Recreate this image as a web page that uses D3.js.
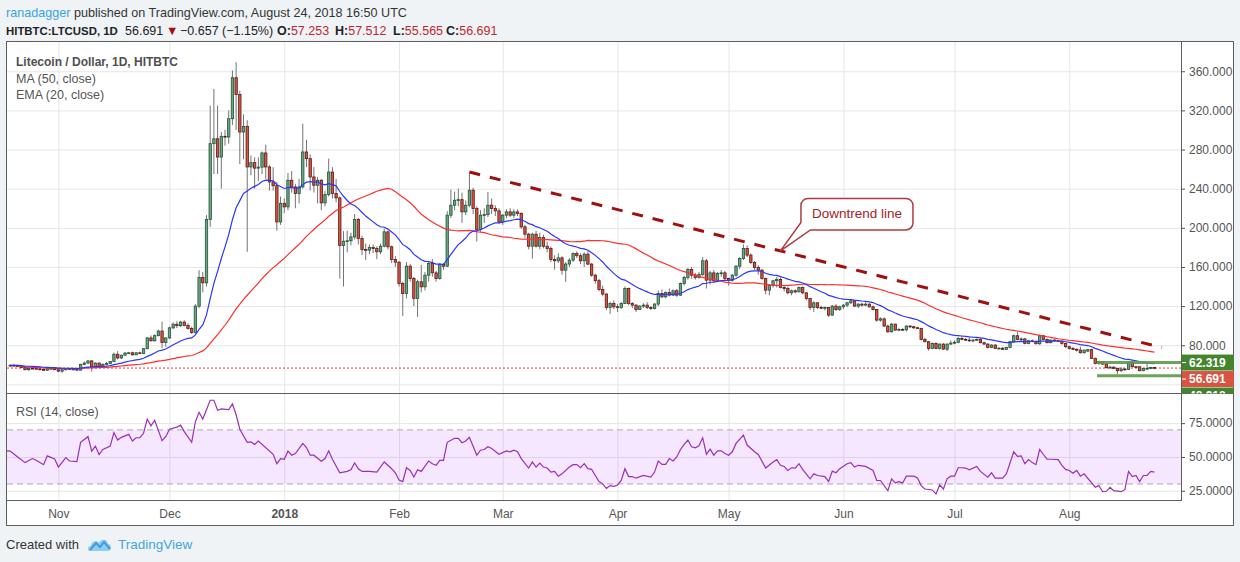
<!DOCTYPE html>
<html>
<head>
<meta charset="utf-8">
<title>LTCUSD 1D</title>
<script src="https://cdn.jsdelivr.net/npm/d3@7/dist/d3.min.js"></script>
<style>
  body { margin: 0; background: #f0f3f6; }
  svg { display: block; }
  text { font-family: "Liberation Sans", Arial, sans-serif; }
  .grid line { stroke: #e6e6e6; }
  .grid .domain { display: none; }
  .axis text { fill: #555; font-size: 12px; }
  .axis .domain { display: none; }
  .axis line { stroke: #555; }
</style>
</head>
<body>
<script>
// daily candles, first candle is on this day, one per day after it
const firstDay = '2017-10-19';

const opens = [
  59.0,59.5,59.0,58.5,57.2,55.0,56.5,56.3,55.8,55.2,54.5,56.0,56.3,
  55.0,53.5,55.0,56.2,55.4,55.6,54.6,60.5,61.8,64.0,58.0,61.8,58.5,60.5,61.5,63.3,70.8,67.0,69.8,72.0,72.3,70.2,72.3,71.5,76.5,87.5,84.5,89.8,94.5,82.8,
  87.5,97.8,101.5,100.0,103.7,100.3,97.2,93.0,120.0,149.3,143.8,208.5,286.0,291.0,272.3,293.5,292.8,311.5,353.4,336.3,297.9,303.7,262.2,266.6,261.0,262.0,276.5,262.2,246.9,243.0,206.0,
  225.0,221.4,248.6,241.8,235.0,241.8,277.5,270.7,252.0,243.5,248.6,225.5,234.0,257.0,235.0,230.6,182.0,186.3,186.8,190.7,208.5,189.1,177.8,177.2,179.8,178.8,175.5,181.2,195.9,180.6,167.6,
  164.9,143.2,132.9,160.8,148.2,127.8,144.9,139.7,151.6,163.6,154.0,148.2,162.5,160.8,212.9,223.1,228.2,228.8,216.3,223.1,238.4,219.7,198.2,212.9,213.5,223.1,219.7,217.3,
  206.1,212.9,216.3,212.9,216.3,214.6,201.0,193.5,181.2,193.5,181.2,190.1,181.2,178.9,167.6,166.3,169.3,156.7,163.0,167.0,173.7,171.5,166.3,173.1,162.9,151.6,146.0,137.0,132.3,118.7,122.7,
  119.3,118.7,122.7,138.0,122.7,121.0,116.6,120.0,121.0,118.7,117.6,122.1,132.9,129.5,134.0,131.2,135.7,131.2,143.1,149.3,157.4,151.6,149.3,152.3,166.3,146.5,154.0,145.9,153.3,154.0,
  148.3,146.5,151.6,160.8,168.6,178.9,172.1,164.6,159.5,156.7,148.2,136.3,141.4,145.9,147.2,139.1,138.0,133.6,135.7,134.6,139.0,133.6,127.8,118.6,123.4,118.6,118.0,118.6,110.8,120.0,116.6,
  119.3,121.0,123.4,125.4,120.0,122.0,121.0,122.0,119.3,116.6,105.7,107.0,99.6,93.8,101.6,95.5,96.2,95.8,99.6,98.9,97.9,97.2,86.0,83.6,76.8,81.9,76.8,81.2,76.0,81.2,
  82.2,83.0,87.0,86.0,85.3,84.6,85.3,86.0,82.6,81.2,77.8,80.2,76.8,77.0,75.8,77.8,83.6,89.7,86.0,86.5,81.9,84.6,84.0,81.5,89.7,86.0,82.6,85.3,84.6,84.3,81.9,
  78.5,76.8,75.8,75.1,72.4,74.0,75.5,66.6,61.5,63.2,60.8,57.1,57.6,56.4,54.0,55.7,55.4,62.2,58.1,58.0,54.0,56.4,56.4,57.253
];
const highs = [
  60.5,61.0,60.0,59.5,58.0,57.5,57.2,57.0,56.3,55.6,57.0,57.5,56.8,
  55.4,55.5,57.0,56.8,56.3,56.2,61.0,63.5,64.5,64.8,62.5,62.3,61.5,62.8,63.8,72.5,74.0,70.5,73.0,73.2,73.5,72.8,73.5,77.0,88.5,90.0,91.0,96.0,104.0,88.0,
  99.0,103.5,104.5,105.0,105.5,102.5,99.0,122.0,156.7,155.0,213.0,325.0,342.0,325.0,298.0,300.0,320.0,360.8,369.3,340.0,316.0,310.0,274.0,272.0,272.0,278.0,285.0,264.0,262.0,247.0,232.0,
  230.0,256.0,258.0,245.0,250.0,306.4,290.0,275.0,262.0,252.0,250.0,238.0,270.7,262.0,250.0,232.0,196.6,197.0,195.0,214.0,210.0,192.0,184.0,183.0,183.0,181.0,184.0,199.0,197.0,182.0,171.0,
  166.0,145.0,165.0,163.0,150.0,147.0,162.0,155.0,166.0,168.0,156.0,164.0,164.0,217.0,239.0,237.0,240.0,236.0,228.0,256.4,241.0,222.0,218.0,220.0,236.7,230.0,223.0,220.0,
  214.0,219.0,220.0,219.0,219.0,216.0,203.0,195.0,195.0,197.0,195.0,193.0,186.0,181.0,172.0,174.0,171.0,165.0,169.0,175.0,176.0,174.0,175.0,176.0,164.0,153.0,148.0,141.0,133.0,124.5,126.0,
  122.0,124.0,140.0,139.0,124.0,122.0,121.0,123.0,124.0,120.0,123.0,136.0,137.0,135.0,138.0,137.0,137.5,144.0,151.0,159.0,160.0,154.0,155.0,170.3,168.0,156.0,157.0,155.0,157.0,156.0,
  149.0,153.0,162.0,170.0,183.0,182.0,174.0,166.0,162.0,158.0,149.0,142.5,147.0,150.0,149.0,141.0,140.0,137.0,137.0,140.0,140.0,134.5,128.5,125.0,124.0,120.5,119.5,119.0,121.0,122.0,120.5,
  122.0,124.5,127.0,126.0,123.0,123.5,124.0,123.0,120.5,117.0,108.5,108.4,101.0,102.5,102.0,97.5,97.5,100.5,100.5,100.0,99.0,97.8,87.5,84.5,83.0,83.0,81.8,82.0,81.8,85.0,
  85.0,88.5,89.5,87.5,88.0,86.0,87.0,86.8,83.5,82.0,81.0,81.0,78.0,78.0,78.5,84.5,91.0,93.8,88.0,87.5,85.5,86.0,85.0,91.0,90.5,87.0,86.0,86.0,85.5,85.0,82.5,
  79.5,78.3,77.0,78.5,75.5,76.3,76.5,67.5,64.2,63.8,61.5,59.0,58.5,57.0,57.5,56.8,63.0,63.0,59.0,58.8,57.0,61.5,58.0,57.512
];
const lows = [
  57.5,58.5,57.8,56.5,54.5,53.8,55.5,55.2,54.5,54.0,54.0,55.3,54.8,
  52.5,51.8,54.2,54.8,54.8,54.0,54.2,59.5,61.0,53.0,56.5,57.0,58.0,59.5,61.0,62.8,65.5,66.0,69.3,71.0,69.5,70.0,71.0,71.0,76.0,84.0,84.0,89.0,77.0,78.5,
  86.5,96.5,97.5,98.5,99.5,96.0,91.5,92.0,118.0,134.0,140.0,201.0,255.0,255.0,240.0,284.0,286.0,305.0,300.0,265.0,270.0,175.5,253.7,240.0,248.0,255.0,250.0,238.0,238.0,197.0,203.0,
  215.0,218.0,236.0,220.0,225.0,240.0,262.0,238.0,236.0,225.0,218.0,222.0,232.0,230.0,226.0,148.0,140.0,175.0,182.0,188.0,183.0,172.0,167.0,173.0,174.0,168.0,173.0,180.0,178.0,164.0,160.0,
  140.0,110.0,128.0,145.0,120.0,109.0,134.0,136.0,145.0,150.0,145.0,147.0,157.0,160.0,210.0,218.0,222.0,205.0,213.0,221.0,214.0,186.0,196.0,205.0,211.0,214.0,212.0,204.0,
  203.0,210.0,211.0,210.0,212.0,199.0,190.0,178.0,168.6,180.0,178.0,179.0,175.0,165.0,157.4,164.0,152.0,144.8,160.0,165.0,169.0,163.0,160.0,162.0,150.0,143.0,135.0,130.0,116.0,112.0,117.0,
  114.0,117.0,122.0,121.0,118.0,114.0,116.0,118.0,117.0,116.0,116.5,120.0,128.0,128.0,130.0,130.5,129.5,130.5,141.0,147.0,148.0,147.0,148.0,151.0,138.0,142.0,144.0,144.5,150.0,146.0,
  141.0,145.0,150.0,158.0,167.0,170.0,163.0,157.0,152.0,147.0,132.0,131.0,139.0,139.0,138.0,135.0,132.0,131.0,133.0,134.0,132.0,126.0,116.0,114.0,117.0,117.0,115.5,109.0,110.0,115.0,115.0,
  117.0,119.0,122.0,119.0,118.0,119.5,120.0,118.5,115.5,104.0,104.0,98.5,92.5,93.0,95.0,94.5,95.0,94.0,97.5,96.5,96.5,85.0,83.0,74.5,76.0,76.0,75.5,75.5,74.0,80.5,
  81.0,82.0,85.0,84.5,83.5,83.0,84.5,82.0,80.5,77.0,77.0,76.0,76.0,75.3,75.5,77.0,82.5,85.0,84.0,81.0,81.0,83.0,81.0,80.5,85.0,82.0,82.0,83.5,83.5,80.5,77.5,
  75.5,75.0,73.5,71.5,71.5,73.0,66.0,60.5,60.0,59.5,56.5,56.0,55.5,50.6,52.5,54.0,55.0,57.5,56.8,53.5,53.5,54.5,55.5,55.565
];
const closes = [
  59.5,59.0,58.5,57.2,55.0,56.5,56.3,55.8,55.2,54.5,56.0,56.3,55.0,
  53.5,55.0,56.2,55.4,55.6,54.6,60.5,61.8,64.0,58.0,61.8,58.5,60.5,61.5,63.3,70.8,67.0,69.8,72.0,72.3,70.2,72.3,71.5,76.5,87.5,84.5,89.8,94.5,82.8,87.5,
  97.8,101.5,100.0,103.7,100.3,97.2,93.0,120.0,149.3,143.8,208.5,286.0,291.0,272.3,293.5,292.8,311.5,353.4,336.3,297.9,303.7,262.2,266.6,261.0,262.0,276.5,262.2,246.9,243.0,206.0,225.0,
  221.4,248.6,241.8,235.0,241.8,277.5,270.7,252.0,243.5,248.6,225.5,234.0,257.0,235.0,230.6,182.0,186.3,186.8,190.7,208.5,189.1,177.8,177.2,179.8,178.8,175.5,181.2,195.9,180.6,167.6,164.9,
  143.2,132.9,160.8,148.2,127.8,144.9,139.7,151.6,163.6,154.0,148.2,162.5,160.8,212.9,223.1,228.2,228.8,216.3,223.1,238.4,219.7,198.2,212.9,213.5,223.1,219.7,217.3,206.1,
  212.9,216.3,212.9,216.3,214.6,201.0,193.5,181.2,193.5,181.2,190.1,181.2,178.9,167.6,166.3,169.3,156.7,163.0,167.0,173.7,171.5,166.3,173.1,162.9,151.6,146.0,137.0,132.3,118.7,122.7,119.3,
  118.7,122.7,138.0,122.7,121.0,116.6,120.0,121.0,118.7,117.6,122.1,132.9,129.5,134.0,131.2,135.7,131.2,143.1,149.3,157.4,151.6,149.3,152.3,166.3,146.5,154.0,145.9,153.3,154.0,148.3,
  146.5,151.6,160.8,168.6,178.9,172.1,164.6,159.5,156.7,148.2,136.3,141.4,145.9,147.2,139.1,138.0,133.6,135.7,134.6,139.0,133.6,127.8,118.6,123.4,118.6,118.0,118.6,110.8,120.0,116.6,119.3,
  121.0,123.4,125.4,120.0,122.0,121.0,122.0,119.3,116.6,105.7,107.0,99.6,93.8,101.6,95.5,96.2,95.8,99.6,98.9,97.9,97.2,86.0,83.6,76.8,81.9,76.8,81.2,76.0,81.2,82.2,
  83.0,87.0,86.0,85.3,84.6,85.3,86.0,82.6,81.2,77.8,80.2,76.8,77.0,75.8,77.8,83.6,89.7,86.0,86.5,81.9,84.6,84.0,81.5,89.7,86.0,82.6,85.3,84.6,84.3,81.9,78.5,
  76.8,75.8,75.1,72.4,75.1,75.5,66.6,61.5,63.2,60.8,57.1,57.6,56.4,54.0,55.7,55.4,62.2,58.1,58.0,54.0,56.4,56.4,57.25,56.691
];

// RSI(14): [candle index, value]
const rsiPoints = [
  [-1,54.5],[0,54.3],[2,50.0],[4,45.8],[6,48.8],[7,47.5],[9,44.3],[10,50.8],[12,48.5],[13,42.5],[15,49.5],[16,47.0],
  [18,46.5],[19,60.8],[21,65.0],[22,54.3],[23,58.0],[24,51.8],[25,55.5],[27,58.0],[28,68.0],[29,62.5],[30,64.5],
  [32,66.7],[33,61.8],[34,64.2],[35,64.2],[36,67.5],[37,78.0],[38,73.0],[39,77.0],[41,62.0],[42,65.0],[43,70.5],
  [45,72.0],[46,73.5],[47,68.7],[49,60.8],[50,76.0],[51,83.0],[52,78.0],[54,91.9],[55,91.9],[56,84.5],[57,85.5],
  [59,85.0],[60,89.2],[61,81.2],[62,70.5],[64,60.8],[65,61.2],[66,59.3],[67,61.8],[71,52.0],[72,45.0],[73,48.8],
  [74,48.3],[75,54.3],[76,51.3],[77,52.5],[79,60.0],[80,57.0],[81,51.3],[82,51.3],[84,46.8],[85,48.8],[86,54.5],
  [87,48.3],[89,38.3],[91,39.3],[92,40.5],[93,45.5],[94,41.3],[95,39.3],[97,39.3],[99,38.8],[101,46.3],[103,41.3],
  [104,38.3],[105,33.0],[106,31.8],[107,42.0],[108,40.0],[109,35.1],[110,40.5],[111,39.3],[113,47.0],[114,45.0],
  [115,43.8],[116,47.5],[117,47.5],[118,60.8],[120,63.8],[121,63.8],[122,60.5],[123,61.8],[124,64.5],[126,51.3],
  [127,55.0],[128,55.5],[129,57.5],[130,56.3],[132,52.0],[134,54.5],[135,53.8],[136,55.0],[137,53.8],[138,48.8],
  [140,41.8],[141,46.3],[142,42.5],[143,45.5],[144,42.5],[145,41.8],[146,38.8],[147,39.3],[148,35.8],[149,37.5],
  [151,42.5],[152,44.3],[153,44.3],[154,42.0],[155,45.0],[156,41.3],[157,40.8],[158,36.3],[159,31.8],[160,30.1],
  [161,26.8],[162,28.8],[163,28.3],[164,29.3],[165,32.6],[166,41.3],[167,35.5],[168,35.5],[169,34.3],[171,36.3],
  [173,35.1],[174,38.8],[175,47.0],[176,44.5],[177,44.5],[178,48.8],[179,47.0],[180,50.0],[181,55.5],[182,59.3],
  [183,62.5],[184,57.5],[185,56.8],[186,58.3],[187,64.2],[188,52.0],[189,55.8],[190,51.3],[191,54.5],[192,54.5],
  [193,52.5],[194,51.3],[195,53.8],[196,60.0],[198,66.2],[199,58.8],[201,53.8],[202,51.8],[204,41.8],[206,46.3],
  [207,48.0],[208,43.8],[209,43.0],[210,40.0],[211,42.0],[212,41.8],[213,45.0],[214,40.8],[216,33.8],[217,37.5],
  [218,36.3],[220,35.5],[221,31.8],[222,39.5],[223,38.3],[224,41.3],[226,45.0],[227,45.8],[228,42.5],[229,43.8],
  [231,43.0],[233,40.0],[234,32.6],[235,32.6],[237,25.1],[238,33.8],[239,30.8],[240,31.8],[241,30.8],[242,35.8],
  [244,35.8],[245,34.5],[246,28.8],[247,26.3],[249,25.6],[250,22.6],[251,29.3],[252,26.3],[253,33.8],[254,35.8],
  [255,35.8],[256,42.0],[257,42.0],[258,41.8],[259,40.5],[261,43.0],[262,39.3],[264,35.0],[265,38.3],[266,34.3],
  [268,34.3],[269,37.5],[271,53.8],[272,50.5],[273,50.8],[274,45.0],[275,48.0],[276,45.8],[277,44.3],[278,55.5],
  [279,51.8],[280,48.3],[281,48.3],[283,48.0],[284,43.8],[285,40.8],[286,40.0],[287,38.0],[288,40.0],[289,35.8],
  [290,37.5],[293,27.6],[294,28.8],[295,24.3],[296,24.6],[297,27.6],[298,25.1],[300,24.3],[301,25.8],[302,39.3],
  [303,35.5],[304,36.3],[305,31.8],[306,36.3],[307,36.3],[308,39.3],[309,38.8]
];

const priceTicks = [40, 80, 120, 160, 200, 240, 280, 320, 360];
const rsiTicks = [25, 50, 75];
const rsiBand = [30, 70];

// drawings on the chart
const trendDates = ['2018-02-20', '2018-08-26'];
const trendValues = [257, 77.6];
const levelStart = '2018-08-08';
const levelValues = [62.319, 48.918];
const calloutDate = '2018-05-15';
const calloutText = 'Downtrend line';

const width = 1240, height = 562;
const pane = {left: 7, right: 1181, top: 41.5, mid: 393.5, bottom: 500.5};

const svg = d3.select('body').append('svg')
    .attr('width', width)
    .attr('height', height);

const parseDay = d3.utcParse('%Y-%m-%d');
const day0 = parseDay(firstDay);
const dates = closes.map((c, i) => d3.utcDay.offset(day0, i));
const last = closes.length - 1;

const x = d3.scaleUtc()
    .domain([d3.utcHour.offset(day0, -21), d3.utcHour.offset(dates[last], 172)])
    .range([pane.left, pane.right]);
const y = d3.scaleLinear().domain([30.7, 390.4]).range([pane.mid, pane.top]);
const yRsi = d3.scaleLinear().domain([17.8, 96.9]).range([pane.bottom, pane.mid]);

// page and white chart box
svg.append('rect').attr('width', width).attr('height', height).attr('fill', '#f0f3f6');
svg.append('rect').attr('x', 6.5).attr('y', 41.5).attr('width', 1227).attr('height', 484).attr('fill', '#fff');

const defs = svg.append('defs');
defs.append('clipPath').attr('id', 'clipPrice').append('rect')
    .attr('x', pane.left).attr('y', pane.top)
    .attr('width', pane.right - pane.left).attr('height', pane.mid - pane.top);
defs.append('clipPath').attr('id', 'clipRsi').append('rect')
    .attr('x', pane.left).attr('y', pane.mid)
    .attr('width', pane.right - pane.left).attr('height', pane.bottom - pane.mid);
defs.append('clipPath').attr('id', 'clipTags').append('rect')
    .attr('x', pane.right).attr('y', pane.top)
    .attr('width', 53).attr('height', pane.mid - pane.top);

// grid
svg.append('g').attr('class', 'grid')
    .attr('transform', `translate(0,${pane.bottom})`)
    .call(d3.axisBottom(x).ticks(d3.utcMonth.every(1)).tickSize(-(pane.bottom - pane.top)).tickFormat(''));
svg.append('g').attr('class', 'grid')
    .attr('transform', `translate(${pane.right},0)`)
    .call(d3.axisRight(y).tickValues(priceTicks).tickSize(-(pane.right - pane.left)).tickFormat(''));
svg.append('g').attr('class', 'grid')
    .attr('transform', `translate(${pane.right},0)`)
    .call(d3.axisRight(yRsi).tickValues(rsiTicks).tickSize(-(pane.right - pane.left)).tickFormat(''));

// RSI band 30..70
svg.append('rect')
    .attr('x', pane.left).attr('width', pane.right - pane.left)
    .attr('y', yRsi(rsiBand[1])).attr('height', yRsi(rsiBand[0]) - yRsi(rsiBand[1]))
    .attr('fill', '#9915ff').attr('fill-opacity', 0.1);
svg.append('g').selectAll('line').data(rsiBand).join('line')
    .attr('x1', pane.left).attr('x2', pane.right)
    .attr('y1', d => yRsi(d)).attr('y2', d => yRsi(d))
    .attr('stroke', '#b0a6b8').attr('stroke-dasharray', '6,4');

const priceG = svg.append('g').attr('clip-path', 'url(#clipPrice)');

// last price line
priceG.append('line')
    .attr('x1', pane.left).attr('x2', pane.right)
    .attr('y1', y(closes[last])).attr('y2', y(closes[last]))
    .attr('stroke', '#e53935').attr('stroke-dasharray', '2,2');

// candles
const idx = d3.range(closes.length);
const step = x(dates[1]) - x(dates[0]);
const bodyW = step * 0.64;
const up = i => closes[i] >= opens[i];

priceG.append('g').selectAll('line').data(idx).join('line')
    .attr('x1', i => x(dates[i])).attr('x2', i => x(dates[i]))
    .attr('y1', i => y(highs[i])).attr('y2', i => y(lows[i]))
    .attr('stroke', '#737375');
priceG.append('g').selectAll('rect').data(idx).join('rect')
    .attr('x', i => x(dates[i]) - bodyW / 2)
    .attr('width', bodyW)
    .attr('y', i => y(Math.max(opens[i], closes[i])))
    .attr('height', i => Math.max(0.8, Math.abs(y(opens[i]) - y(closes[i]))))
    .attr('fill', i => up(i) ? '#6ba583' : '#d75442')
    .attr('stroke', i => up(i) ? '#225437' : '#5b1a13')
    .attr('stroke-width', 0.8);

// MA 50 and EMA 20 from the closes
const ma50 = closes.map((c, i) => d3.mean(closes.slice(Math.max(0, i - 49), i + 1)));
const ema20 = [];
closes.forEach((c, i) => ema20.push(i === 0 ? c : ema20[i - 1] + (2 / 21) * (c - ema20[i - 1])));

const priceLine = d3.line().x((d, i) => x(dates[i])).y(d => y(d));
priceG.append('path').datum(ma50)
    .attr('d', priceLine).attr('fill', 'none').attr('stroke', '#ff2e2e').attr('stroke-width', 1.2);
priceG.append('path').datum(ema20)
    .attr('d', priceLine).attr('fill', 'none').attr('stroke', '#2c35ff').attr('stroke-width', 1.2);

// horizontal levels
priceG.append('g').selectAll('line').data(levelValues).join('line')
    .attr('x1', x(parseDay(levelStart)) + step / 2).attr('x2', pane.right)
    .attr('y1', d => y(d)).attr('y2', d => y(d))
    .attr('stroke', '#5a9a48').attr('stroke-width', 3).attr('stroke-opacity', 0.9);

// downtrend line
const t0 = parseDay(trendDates[0]), t1 = parseDay(trendDates[1]);
priceG.append('line')
    .attr('x1', x(t0)).attr('y1', y(trendValues[0]))
    .attr('x2', x(t1)).attr('y2', y(trendValues[1]))
    .attr('stroke', '#a00e0e').attr('stroke-width', 3).attr('stroke-dasharray', '11,10');

// callout pointing at the trend line
const cd = parseDay(calloutDate);
const frac = (cd - t0) / (t1 - t0);
const tipX = x(cd), tipY = y(trendValues[0] + frac * (trendValues[1] - trendValues[0]));
const bx0 = tipX + 20.5, bx1 = tipX + 132.5, by0 = tipY - 52.5, by1 = tipY - 21, r = 7;
svg.append('path')
    .attr('d', `M${bx0 + r},${by0} H${bx1 - r} A${r},${r} 0 0 1 ${bx1},${by0 + r} V${by1 - r}
      A${r},${r} 0 0 1 ${bx1 - r},${by1} H${tipX + 30} L${tipX},${tipY} L${bx0},${tipY - 28.5}
      V${by0 + r} A${r},${r} 0 0 1 ${bx0 + r},${by0} Z`)
    .attr('fill', '#fff').attr('stroke', '#ad3a41').attr('stroke-width', 1.5);
svg.append('text')
    .attr('x', (bx0 + bx1) / 2).attr('y', tipY - 32.5)
    .attr('text-anchor', 'middle').attr('font-size', 13.5).attr('fill', '#a3232a')
    .text(calloutText);

// RSI line
svg.append('path').datum(rsiPoints)
    .attr('clip-path', 'url(#clipRsi)')
    .attr('d', d3.line().x(d => x(d3.utcDay.offset(day0, d[0]))).y(d => yRsi(d[1])))
    .attr('fill', 'none').attr('stroke', '#9c2fb8').attr('stroke-width', 1.2);

// frame and pane separators
const frame = svg.append('g').attr('stroke', '#5e5e5e').attr('fill', 'none').attr('shape-rendering', 'crispEdges');
frame.append('rect').attr('x', 6.5).attr('y', 41.5).attr('width', 1227).attr('height', 484);
frame.append('line').attr('x1', 6.5).attr('x2', 1233.5).attr('y1', pane.mid).attr('y2', pane.mid);
frame.append('line').attr('x1', pane.right + 0.5).attr('x2', pane.right + 0.5).attr('y1', pane.top).attr('y2', pane.bottom);
frame.append('line').attr('x1', 6.5).attr('x2', pane.right + 0.5).attr('y1', pane.bottom).attr('y2', pane.bottom);

// price tags on the right axis, pushed down so they don't overlap
const tagList = [
  {value: levelValues[0], color: '#43852f'},
  {value: closes[last], color: '#d75442'},
  {value: levelValues[1], color: '#43852f'}
].sort((a, b) => b.value - a.value);
let prevY = -Infinity;
tagList.forEach(t => { t.cy = Math.max(y(t.value), prevY + 16.5); prevY = t.cy; });

// axes (price labels that sit under a tag are hidden, as on the chart)
const labelTicks = priceTicks.filter(v => tagList.every(t => Math.abs(y(v) - t.cy) > 14));
svg.append('g').attr('class', 'axis')
    .attr('transform', `translate(${pane.right},0)`)
    .call(d3.axisRight(y).tickValues(labelTicks).tickSize(4).tickPadding(4).tickFormat(d3.format('.3f')));
svg.append('g').attr('class', 'axis')
    .attr('transform', `translate(${pane.right},0)`)
    .call(d3.axisRight(yRsi).tickValues(rsiTicks).tickSize(4).tickPadding(4).tickFormat(d3.format('.4f')));
svg.append('g').attr('class', 'axis')
    .attr('transform', `translate(0,${pane.bottom})`)
    .call(d3.axisBottom(x).ticks(d3.utcMonth.every(1)).tickSize(0).tickPadding(9)
      .tickFormat(d => d.getUTCMonth() === 0 ? d3.utcFormat('%Y')(d) : d3.utcFormat('%b')(d)))
    .call(g => g.selectAll('text').filter(d => d.getUTCMonth() === 0).style('font-weight', 'bold'));

const tags = svg.append('g').attr('clip-path', 'url(#clipTags)')
    .selectAll('g').data(tagList).join('g');
tags.append('rect')
    .attr('x', pane.right + 1).attr('width', 52)
    .attr('y', t => t.cy - 8).attr('height', 16)
    .attr('fill', t => t.color);
tags.append('line')
    .attr('x1', pane.right + 1).attr('x2', pane.right + 5)
    .attr('y1', t => t.cy).attr('y2', t => t.cy)
    .attr('stroke', '#fff');
tags.append('text')
    .attr('x', pane.right + 8).attr('y', t => t.cy + 4.3)
    .attr('font-size', 12).attr('font-weight', 'bold').attr('fill', '#fff')
    .text(t => t.value.toFixed(3));

// legends
svg.append('text').attr('x', 16).attr('y', 65.5)
    .attr('font-size', 12).attr('font-weight', 'bold').attr('fill', '#505050')
    .text('Litecoin / Dollar, 1D, HITBTC');
svg.append('text').attr('x', 16).attr('y', 82.5)
    .attr('font-size', 12.5).attr('fill', '#555').text('MA (50, close)');
svg.append('text').attr('x', 16).attr('y', 98.5)
    .attr('font-size', 12.5).attr('fill', '#555').text('EMA (20, close)');
svg.append('text').attr('x', 16).attr('y', 416)
    .attr('font-size', 12.5).attr('fill', '#555').text('RSI (14, close)');

// header
const head1 = svg.append('text').attr('x', 6).attr('y', 16.5)
    .attr('font-size', 12.6).style('white-space', 'pre');
head1.append('tspan').attr('fill', '#3ba2dc').text('ranadagger');
head1.append('tspan').attr('fill', '#333').text(' published on TradingView.com, August 24, 2018 16:50 UTC');

const head2 = svg.append('text').attr('y', 34.5)
    .attr('font-size', 12.5).attr('fill', '#222');
head2.append('tspan').attr('x', 6).attr('font-weight', 'bold').attr('font-size', 11.4).text('HITBTC:LTCUSD, 1D');
head2.append('tspan').attr('x', 125).text(closes[last].toFixed(3));
head2.append('tspan').attr('x', 166).attr('fill', '#a30d0d').text('\u25BC');
head2.append('tspan').attr('x', 180).text('\u22120.657 (\u22121.15%)');
const ohlc = [['O:', opens[last]], ['H:', highs[last]], ['L:', lows[last]], ['C:', closes[last]]];
const ohlcX = [277, 335, 393, 446];
ohlc.forEach(([k, v], j) => {
  head2.append('tspan').attr('x', ohlcX[j]).attr('font-weight', 'bold').text(k);
  head2.append('tspan').attr('fill', '#c0272d').text(v.toFixed(3));
});

// footer
svg.append('text').attr('x', 6).attr('y', 548.5)
    .attr('font-size', 13).attr('fill', '#333').text('Created with');
const logo = svg.append('g').attr('transform', 'translate(88,537)');
logo.append('path')
    .attr('d', 'M2,14 C-1,14 -1,9 3,9 C3,4 9,3 11,6 C13,1 20,2 20,7 C24,7 24,14 20,14 Z')
    .attr('fill', '#8fcdf0');
logo.append('path')
    .attr('d', 'M2,13 L8,6 L12,10 L16,5 L22,12')
    .attr('fill', 'none').attr('stroke', '#3d9bdc').attr('stroke-width', 2);
svg.append('text').attr('x', 118).attr('y', 548.5)
    .attr('font-size', 13.5).attr('fill', '#45a3dd').text('TradingView');
</script>
</body>
</html>
